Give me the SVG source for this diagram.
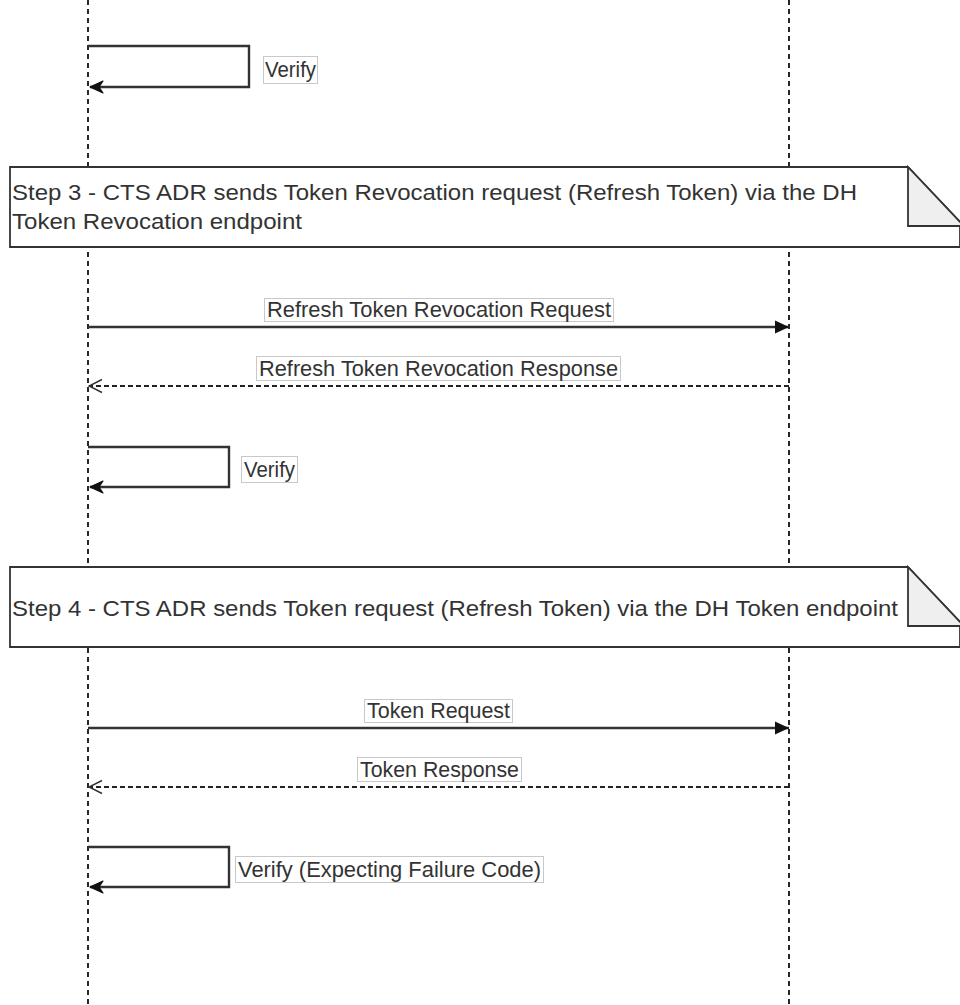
<svg xmlns="http://www.w3.org/2000/svg" width="960" height="1005" viewBox="0 0 960 1005">
<style>
.life{stroke:#111;stroke-width:1.8;stroke-dasharray:5 4;fill:none}
.msg{stroke:#333;stroke-width:2.4;fill:none}
.ret{stroke:#222;stroke-width:1.8;stroke-dasharray:5 3;fill:none}
.lbl{fill:#fff;stroke:#c8c8c8;stroke-width:1}
.t{font-family:"Liberation Sans",Arial,sans-serif;font-size:22px;fill:#333}
.note{fill:#fff;stroke:#333;stroke-width:1.8}
.fold{fill:#efefef;stroke:#333;stroke-width:1.8}
</style>
<defs>
<marker id="filled" viewBox="0 0 14 14" refX="14" refY="7" markerWidth="14" markerHeight="14" markerUnits="userSpaceOnUse" orient="auto">
<path d="M0,0.5 L14,7 L0,13.5 Z" fill="#111"/>
</marker>
<marker id="classic" viewBox="0 0 16 16" refX="15" refY="8" markerWidth="16" markerHeight="16" markerUnits="userSpaceOnUse" orient="auto">
<path d="M2,2 L15,8 L2,14 L6,8 Z" fill="#111" stroke="#111" stroke-width="1.2" stroke-linejoin="round"/>
</marker>
<marker id="open" viewBox="0 0 16 16" refX="15" refY="8" markerWidth="16" markerHeight="16" markerUnits="userSpaceOnUse" orient="auto">
<path d="M2,1.5 L15,8 L2,14.5" fill="none" stroke="#333" stroke-width="1.5"/>
</marker>
</defs>

<g id="lifelines">
<line class="life" x1="88" y1="0" x2="88" y2="1005"/>
<line class="life" x1="789" y1="0" x2="789" y2="1005"/>
</g>

<g id="note-step3">
<path class="note" d="M10,167 L908,167 L960,222 L960,247 L10,247 Z"/>
<path class="fold" d="M908,167 L962,224 L962,226 L908,226 Z"/>
<text class="t" x="12" y="200" textLength="845" lengthAdjust="spacingAndGlyphs">Step 3 - CTS ADR sends Token Revocation request (Refresh Token) via the DH</text>
<text class="t" x="12" y="229" textLength="290" lengthAdjust="spacingAndGlyphs">Token Revocation endpoint</text>
</g>

<g id="note-step4">
<path class="note" d="M10,567 L908,567 L960,622 L960,647 L10,647 Z"/>
<path class="fold" d="M908,567 L962,624 L962,626 L908,626 Z"/>
<text class="t" x="12" y="616" textLength="886" lengthAdjust="spacingAndGlyphs">Step 4 - CTS ADR sends Token request (Refresh Token) via the DH Token endpoint</text>
</g>

<g id="connectors">
<polyline class="msg" points="88,46 249,46 249,87 90,87" marker-end="url(#classic)"/>
<line class="msg" x1="88" y1="327" x2="789" y2="327" marker-end="url(#filled)"/>
<line class="ret" x1="789" y1="386" x2="89" y2="386" marker-end="url(#open)"/>
<polyline class="msg" points="88,447 229,447 229,487 90,487" marker-end="url(#classic)"/>
<line class="msg" x1="88" y1="728" x2="789" y2="728" marker-end="url(#filled)"/>
<line class="ret" x1="789" y1="787" x2="89" y2="787" marker-end="url(#open)"/>
<polyline class="msg" points="88,847 229,847 229,887 90,887" marker-end="url(#classic)"/>
</g>

<g id="labels">
<rect class="lbl" x="263.5" y="56.5" width="54" height="27"/>
<text class="t" x="265" y="77" textLength="51" lengthAdjust="spacingAndGlyphs">Verify</text>

<rect class="lbl" x="264.5" y="298.5" width="349" height="23"/>
<text class="t" x="267" y="317" textLength="344" lengthAdjust="spacingAndGlyphs">Refresh Token Revocation Request</text>

<rect class="lbl" x="256.5" y="356.5" width="364" height="24"/>
<text class="t" x="259" y="376" textLength="359" lengthAdjust="spacingAndGlyphs">Refresh Token Revocation Response</text>

<rect class="lbl" x="241.5" y="456.5" width="56" height="26"/>
<text class="t" x="244" y="477" textLength="51" lengthAdjust="spacingAndGlyphs">Verify</text>

<rect class="lbl" x="364.5" y="699.5" width="148" height="23"/>
<text class="t" x="367" y="718" textLength="143" lengthAdjust="spacingAndGlyphs">Token Request</text>

<rect class="lbl" x="357.5" y="757.5" width="164" height="24"/>
<text class="t" x="360" y="777" textLength="159" lengthAdjust="spacingAndGlyphs">Token Response</text>

<rect class="lbl" x="235.5" y="856.5" width="308" height="26"/>
<text class="t" x="238" y="877" textLength="303" lengthAdjust="spacingAndGlyphs">Verify (Expecting Failure Code)</text>
</g>
</svg>
